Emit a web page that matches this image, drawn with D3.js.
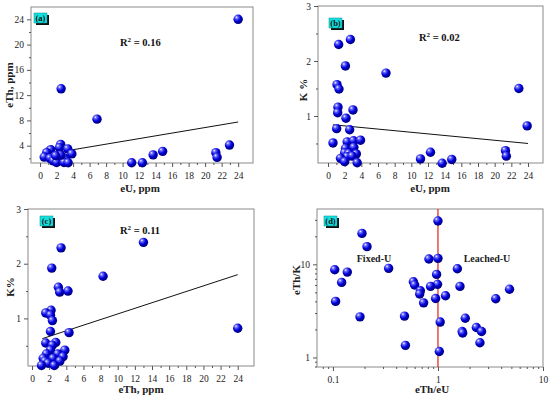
<!DOCTYPE html>
<html>
<head>
<meta charset="utf-8">
<script src="https://cdn.jsdelivr.net/npm/d3@7"></script>
<style>
  body { margin: 0; background: #fff; }
  svg text { font-family: "Liberation Serif", "Times New Roman", serif; }
</style>
</head>
<body>
<div id="chart"></div>
<script>
// panel (a): eU vs eTh
var aEU  = [24, 2.55, 6.9, 2.5, 2.35, 3.35, 1.15, 1.3, 0.8, 3.85, 0.5, 1.7, 2.6, 3.0, 2.1, 1.2, 2.2, 1.6, 2.7, 3.2, 2.0, 2.9, 3.4, 11.1, 12.4, 13.7, 14.85, 21.3, 21.45, 22.95, 2.5, 1.9];
var aETh = [24, 13, 8.2, 4.2, 3.7, 3.5, 3.2, 3.35, 2.9, 2.7, 2.2, 2.2, 2.3, 2.0, 2.0, 2.0, 1.6, 1.6, 1.7, 1.5, 1.35, 1.35, 1.3, 1.3, 1.3, 2.55, 3.1, 2.9, 2.15, 4.1, 2.5, 2.4];
var aFit = [[0.5, 2.6], [24, 7.75]];

// panel (b): eU vs K
var bEU = [1.28, 2.69, 2.09, 6.96, 1.08, 1.32, 1.2, 1.16, 3.0, 2.16, 1.04, 2.6, 0.6, 2.3, 3.06, 3.9, 2.1, 3.1, 2.0, 2.5, 3.4, 2.3, 2.9, 1.5, 2.0, 3.5, 11.1, 12.3, 13.7, 14.85, 21.3, 21.4, 22.9, 23.9];
var bK  = [2.30, 2.39, 1.91, 1.78, 1.57, 1.49, 1.16, 1.06, 1.11, 0.96, 0.77, 0.75, 0.51, 0.53, 0.55, 0.56, 0.41, 0.43, 0.33, 0.32, 0.31, 0.26, 0.27, 0.23, 0.17, 0.15, 0.22, 0.34, 0.14, 0.21, 0.37, 0.27, 1.50, 0.82];
var bFit = [[0.6, 0.84], [24, 0.50]];

// panel (c): eTh vs K
var cETh = [13.0, 3.39, 2.3, 8.29, 3.07, 3.23, 4.2, 2.22, 1.6, 2.15, 2.38, 2.15, 4.32, 24.0, 1.6, 2.77, 2.38, 3.82, 2.15, 3.0, 1.68, 3.62, 1.3, 2.45, 1.5, 3.25, 1.87, 1.1, 2.6];
var cK   = [2.39, 2.29, 1.92, 1.77, 1.57, 1.48, 1.50, 1.15, 1.10, 1.06, 0.96, 0.76, 0.74, 0.82, 0.55, 0.56, 0.51, 0.42, 0.42, 0.35, 0.35, 0.30, 0.27, 0.27, 0.22, 0.22, 0.18, 0.14, 0.14];
var cFit = [[1.2, 0.63], [24, 1.80]];

// panel (d): eTh/eU vs eTh/K
var dThU = [1.0, 0.189, 0.211, 0.82, 1.0, 0.104, 0.137, 0.339, 1.53, 0.97, 0.121, 0.583, 0.60, 0.99, 0.85, 1.62, 0.68, 0.67, 1.18, 4.8, 0.106, 0.73, 0.95, 3.55, 0.181, 0.48, 1.82, 1.05, 2.32, 1.7, 1.72, 2.6, 2.51, 0.49, 1.03];
var dThK = [29.2, 21.5, 15.5, 11.4, 11.6, 8.75, 8.26, 9.06, 8.97, 7.8, 6.4, 6.5, 6.0, 6.1, 5.8, 5.8, 5.2, 4.8, 4.6, 5.4, 4.0, 3.86, 4.3, 4.27, 2.73, 2.78, 2.64, 2.4, 2.1, 1.9, 1.83, 1.9, 1.44, 1.35, 1.16];

var xTicksLin = d3.range(0, 25, 2);
var xMinorLin = d3.range(1, 25, 2);

var panels = [
  { id: 'a', xs: aEU, ys: aETh, fit: aFit, frame: [31, 253, 7, 163],
    xd: [-1.1, 25.8], yd: [1.26, 25.95], yTicks: [4, 8, 12, 16, 20, 24], yMinor: [2, 6, 10, 14, 18, 22],
    xTitle: 'eU, ppm', yTitle: 'eTh, ppm', xTitlePos: [140, 192], yTitlePos: [9, 85],
    tag: [34, 13], r2: '0.16', r2Pos: [120, 46] },
  { id: 'b', xs: bEU, ys: bK, fit: bFit, frame: [318, 543, 6, 163],
    xd: [-1.2, 25.8], yd: [0.145, 3], yTicks: [1, 2, 3], yMinor: [0.5, 1.5, 2.5],
    xTitle: 'eU, ppm', yTitle: 'K %', xTitlePos: [430, 192], yTitlePos: [303, 90],
    tag: [329, 18], r2: '0.02', r2Pos: [419, 41] },
  { id: 'c', xs: cETh, ys: cK, fit: cFit, frame: [28, 254, 209, 366],
    xd: [-0.47, 25.9], yd: [0.13, 3], yTicks: [1, 2, 3], yMinor: [0.5, 1.5, 2.5],
    xTitle: 'eTh, ppm', yTitle: 'K%', xTitlePos: [141, 393], yTitlePos: [10, 287],
    tag: [40, 216], r2: '0.11', r2Pos: [120, 234] },
  { id: 'd', xs: dThU, ys: dThK, log: true, frame: [317, 543, 209, 367],
    xd: [0.0705, 10], yd: [0.79, 39.3],
    xTitle: 'eTh/eU', yTitle: 'eTh/K', xTitlePos: [432, 393], yTitlePos: [296, 280],
    tag: [324, 216] }
];

var svg = d3.select('#chart').append('svg')
    .attr('width', 550)
    .attr('height', 399);

var defs = svg.append('defs');
var grad = defs.append('radialGradient')
    .attr('id', 'ball')
    .attr('cx', '38%').attr('cy', '35%').attr('r', '65%')
    .attr('fx', '32%').attr('fy', '28%');
grad.append('stop').attr('offset', '0%').attr('stop-color', '#ffffff');
grad.append('stop').attr('offset', '22%').attr('stop-color', '#6b6bff');
grad.append('stop').attr('offset', '60%').attr('stop-color', '#0000d8');
grad.append('stop').attr('offset', '100%').attr('stop-color', '#00007a');

var drawPanel = function(p) {
  var f = p.frame;
  var g = svg.append('g').attr('class', 'panel-' + p.id);
  var x, y;
  if (p.log) {
    x = d3.scaleLog().domain(p.xd).range([f[0], f[1]]);
    y = d3.scaleLog().domain(p.yd).range([f[3], f[2]]);
  } else {
    x = d3.scaleLinear().domain(p.xd).range([f[0], f[1]]);
    y = d3.scaleLinear().domain(p.yd).range([f[3], f[2]]);
  }

  // frame
  g.append('rect')
    .attr('x', f[0]).attr('y', f[2])
    .attr('width', f[1] - f[0]).attr('height', f[3] - f[2])
    .attr('fill', 'none').attr('stroke', '#8a8a8a').attr('stroke-width', 1);

  var xMaj, xMin, yMaj, yMin;
  if (p.log) {
    xMaj = [0.1, 1, 10];
    xMin = [0.08, 0.09].concat(d3.range(2, 10).map(function(d) { return d / 10; }), d3.range(2, 10));
    yMaj = [1, 10];
    yMin = [0.8, 0.9].concat(d3.range(2, 10), [20, 30]);
  } else {
    xMaj = xTicksLin; xMin = xMinorLin;
    yMaj = p.yTicks; yMin = p.yMinor;
  }
  var fmt = function(d) { return String(d); };

  var xAxis = d3.axisBottom(x).tickValues(xMaj).tickSize(4).tickFormat(fmt);
  var xAxisMinor = d3.axisBottom(x).tickValues(xMin).tickSize(2).tickFormat('');
  var yAxis = d3.axisLeft(y).tickValues(yMaj).tickSize(4).tickFormat(fmt);
  var yAxisMinor = d3.axisLeft(y).tickValues(yMin).tickSize(2).tickFormat('');

  [xAxis, xAxisMinor].forEach(function(ax) {
    var a = g.append('g').attr('transform', 'translate(0,' + f[3] + ')').call(ax);
    a.select('.domain').remove();
    a.selectAll('line').attr('stroke', '#555');
    a.selectAll('text').attr('font-size', 9.5).attr('fill', '#222')
      .attr('font-family', '"Liberation Serif", serif').attr('dy', '0.9em');
  });
  [yAxis, yAxisMinor].forEach(function(ax) {
    var a = g.append('g').attr('transform', 'translate(' + f[0] + ',0)').call(ax);
    a.select('.domain').remove();
    a.selectAll('line').attr('stroke', '#555');
    a.selectAll('text').attr('font-size', 9.5).attr('fill', '#222')
      .attr('font-family', '"Liberation Serif", serif');
  });

  // titles
  g.append('text')
    .attr('x', p.xTitlePos[0]).attr('y', p.xTitlePos[1])
    .attr('text-anchor', 'middle').attr('font-size', 11).attr('font-weight', 'bold')
    .attr('fill', '#222').text(p.xTitle);
  g.append('text')
    .attr('transform', 'translate(' + p.yTitlePos[0] + ',' + p.yTitlePos[1] + ') rotate(-90)')
    .attr('text-anchor', 'middle').attr('dy', '0.35em').attr('font-size', 11).attr('font-weight', 'bold')
    .attr('fill', '#222').text(p.yTitle);

  // red boundary line in (d)
  if (p.log) {
    g.append('line')
      .attr('x1', x(1)).attr('x2', x(1))
      .attr('y1', f[2]).attr('y2', f[3])
      .attr('stroke', '#e0201a').attr('stroke-width', 1.2);
    g.append('text').attr('x', 374).attr('y', 262).attr('text-anchor', 'middle')
      .attr('font-size', 10).attr('font-weight', 'bold').attr('fill', '#222').text('Fixed-U');
    g.append('text').attr('x', 487).attr('y', 262).attr('text-anchor', 'middle')
      .attr('font-size', 10).attr('font-weight', 'bold').attr('fill', '#222').text('Leached-U');
  }

  // fit line
  if (p.fit) {
    g.append('line')
      .attr('x1', x(p.fit[0][0])).attr('y1', y(p.fit[0][1]))
      .attr('x2', x(p.fit[1][0])).attr('y2', y(p.fit[1][1]))
      .attr('stroke', '#111').attr('stroke-width', 1);
  }

  // points
  var pts = p.xs.map(function(d, i) { return [d, p.ys[i]]; });
  g.append('g').selectAll('circle')
    .data(pts)
    .enter()
    .append('circle')
      .attr('cx', function(d) { return x(d[0]); })
      .attr('cy', function(d) { return y(d[1]); })
      .attr('r', 4.7)
      .attr('fill', 'url(#ball)');

  // R² label
  if (p.r2) {
    var t = g.append('text')
      .attr('x', p.r2Pos[0]).attr('y', p.r2Pos[1])
      .attr('font-size', 10.5).attr('font-weight', 'bold').attr('fill', '#111');
    t.append('tspan').text('R');
    t.append('tspan').attr('dy', -4).attr('font-size', 7).text('2');
    t.append('tspan').attr('dy', 4).text(' = ' + p.r2);
  }

  // panel tag
  var tg = g.append('g').attr('transform', 'translate(' + p.tag[0] + ',' + p.tag[1] + ')');
  tg.append('rect').attr('x', 2).attr('y', 2).attr('width', 13).attr('height', 10).attr('fill', '#111');
  tg.append('rect').attr('x', 0).attr('y', 0).attr('width', 13).attr('height', 10)
    .attr('fill', '#14e0e0').attr('stroke', '#0a8a8a').attr('stroke-width', 0.5);
  tg.append('text').attr('x', 6.5).attr('y', 7.8).attr('text-anchor', 'middle')
    .attr('font-size', 8.5).attr('font-weight', 'bold').attr('fill', '#111').text('(' + p.id + ')');
};

panels.forEach(function(p) { drawPanel(p); });
</script>
</body>
</html>
